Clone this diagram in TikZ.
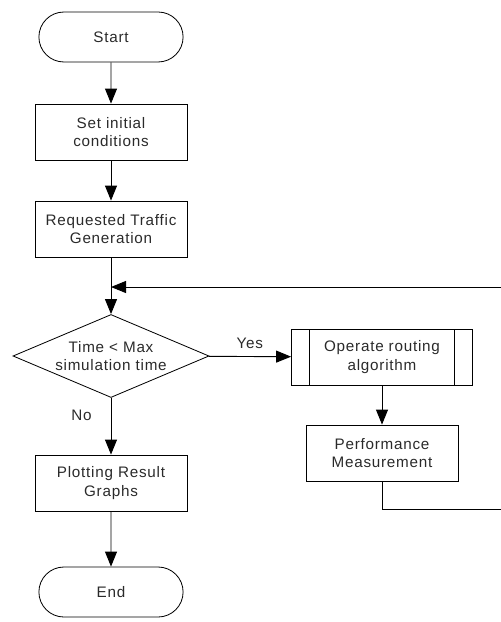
\documentclass[tikz,border=0pt]{standalone}
\usepackage{fontspec}
\setmainfont{Liberation Sans}[LetterSpace=5]
\usetikzlibrary{shapes.geometric,shapes.misc,arrows.meta}
\definecolor{flowtext}{HTML}{2A2A2A}
\definecolor{flowline}{HTML}{000000}

\begin{document}
\begin{tikzpicture}[x=0.03cm,y=-0.03cm,
    every node/.style={font=\fontsize{13}{16}\selectfont,text=flowtext,align=center},
    term/.style={draw=flowline,rounded rectangle,minimum width=4.56cm,minimum height=1.5cm,line width=0.7pt},
    box/.style={draw=flowline,rectangle,minimum width=4.56cm,minimum height=1.68cm,line width=0.7pt},
    subbox/.style={box,minimum width=5.43cm,
      path picture={\draw[line width=0.7pt]
        ([xshift=0.54cm]path picture bounding box.north west) -- ([xshift=0.54cm]path picture bounding box.south west)
        ([xshift=-0.54cm]path picture bounding box.north east) -- ([xshift=-0.54cm]path picture bounding box.south east);}},
    decide/.style={draw=flowline,diamond,minimum width=5.88cm,minimum height=2.49cm,inner sep=0pt,line width=0.7pt},
    flow/.style={draw=flowline,line width=0.8pt,-{Triangle[length=0.45cm,width=0.36cm]}}]
  \useasboundingbox (0,0) rectangle (500,622);

  % left column
  \node[term] (start)   at (111,37)  {Start};
  \node[box]  (init)    at (111,132) {Set initial\\conditions};
  \node[box]  (traffic) at (111,229) {Requested Traffic\\Generation};
  \coordinate (merge)   at (111,287);
  \node[decide] (check) at (111,356) {};
  \node (checktext)     at (111,356) {Time < Max\\simulation time};
  \node[box]  (plot)    at (111,483) {Plotting Result\\Graphs};
  \node[term] (finish)  at (111,592) {End};

  % right column
  \node[subbox] (route) at (382,357) {Operate routing\\algorithm};
  \node[box]  (perf)    at (382,453) {Performance\\Measurement};
  \coordinate (edgelow)  at (506,509);
  \coordinate (edgehigh) at (506,287);

  \draw[flow] (start) -- (init);
  \draw[flow] (init) -- (traffic);
  \draw[flow] (traffic) -- (check);
  \draw[flow] (check) -- node[above=3pt] {Yes} (route);
  \draw[flow] (check) -- node[pos=0.3,anchor=east,xshift=-0.45cm] {No} (plot);
  \draw[flow] (route) -- (perf);
  \draw[flow] (plot) -- (finish);
  \draw[flow] (perf.south) |- (edgelow) -- (edgehigh) -- (merge);
\end{tikzpicture}
\end{document}
